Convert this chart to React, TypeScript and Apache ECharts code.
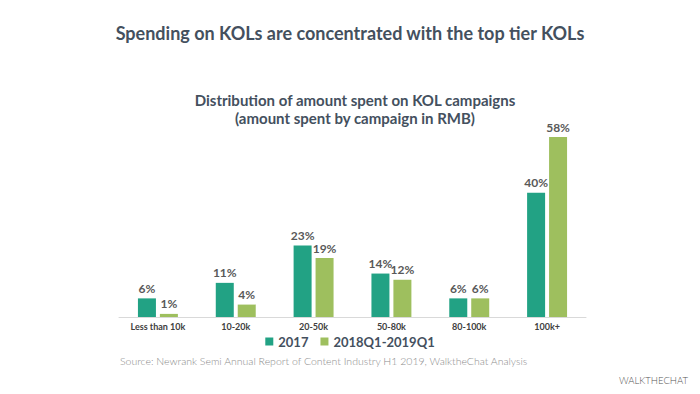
import React, { useEffect, useRef } from "react";
import * as echarts from "echarts";

const categories = ["Less than 10k", "10-20k", "20-50k", "50-80k", "80-100k", "100k+"];
const series2017 = [6, 11, 23, 14, 6, 40];
const series2018 = [1, 4, 19, 12, 6, 58];
const seriesNames = ["2017", "2018Q1-2019Q1"];

export default function App() {
  const ref = useRef<HTMLDivElement>(null);
  useEffect(() => {
    document.body.style.margin = "0";
    const chart = echarts.init(ref.current!, undefined, { renderer: "svg" });
    const font = "Lato";
    const labelStyle = {
      show: true,
      position: "top" as const,
      formatter: "{c}%",
      color: "#595959",
      fontSize: 12,
      fontWeight: "bold" as const,
      fontFamily: font,
      distance: 4,
    };
    chart.setOption({
      animation: false,
      backgroundColor: "#ffffff",
      title: [
        {
          text: "Spending on KOLs are concentrated with the top tier KOLs",
          left: "center",
          top: 19,
          textStyle: { color: "#44505e", fontSize: 18, fontWeight: "bold", fontFamily: font },
        },
        {
          text: "Distribution of amount spent on KOL campaigns\n(amount spent by campaign in RMB)",
          left: 350,
          textAlign: "center",
          top: 86,
          textStyle: {
            color: "#44505e",
            fontSize: 15,
            fontWeight: "bold",
            fontFamily: font,
            lineHeight: 18,
          },
        },
      ],
      legend: {
        data: seriesNames,
        left: "center",
        top: 333,
        padding: 2,
        itemWidth: 8,
        itemHeight: 8,
        itemGap: 12,
        icon: "rect",
        textStyle: { color: "#44505e", fontSize: 13, fontWeight: "bold", fontFamily: font },
      },
      grid: { left: 119, right: 114, top: 137, bottom: 77, containLabel: false },
      xAxis: {
        type: "category",
        data: categories,
        axisLine: { show: true, lineStyle: { color: "#d9d9d9", width: 1 } },
        axisTick: { show: false },
        axisLabel: {
          color: "#404040",
          fontSize: 9,
          fontWeight: "bold",
          fontFamily: font,
          margin: 5,
        },
      },
      yAxis: {
        type: "value",
        min: 0,
        max: 58,
        show: false,
        splitLine: { show: false },
      },
      series: [
        {
          name: seriesNames[0],
          type: "bar",
          data: series2017,
          barWidth: 18,
          barGap: "22%",
          itemStyle: { color: "#22a284" },
          label: labelStyle,
        },
        {
          name: seriesNames[1],
          type: "bar",
          data: series2018,
          barWidth: 18,
          itemStyle: { color: "#9ebf5e" },
          label: labelStyle,
        },
      ],
      graphic: [
        {
          type: "text",
          left: 120,
          top: 355,
          style: {
            text: "Source: Newrank Semi Annual Report of Content Industry H1 2019, WalktheChat Analysis",
            fill: "#8c8c8c",
            fontSize: 10.5,
            fontFamily: font,
            fontWeight: 300,
          },
        },
        {
          type: "text",
          left: 619,
          top: 375,
          style: {
            text: "WALKTHECHAT",
            fill: "#555555",
            fontSize: 9.5,
            fontFamily: font,
            fontWeight: 300,
          },
        },
      ],
    });
    return () => chart.dispose();
  }, []);
  return <div ref={ref} style={{ width: 700, height: 394 }} />;
}
